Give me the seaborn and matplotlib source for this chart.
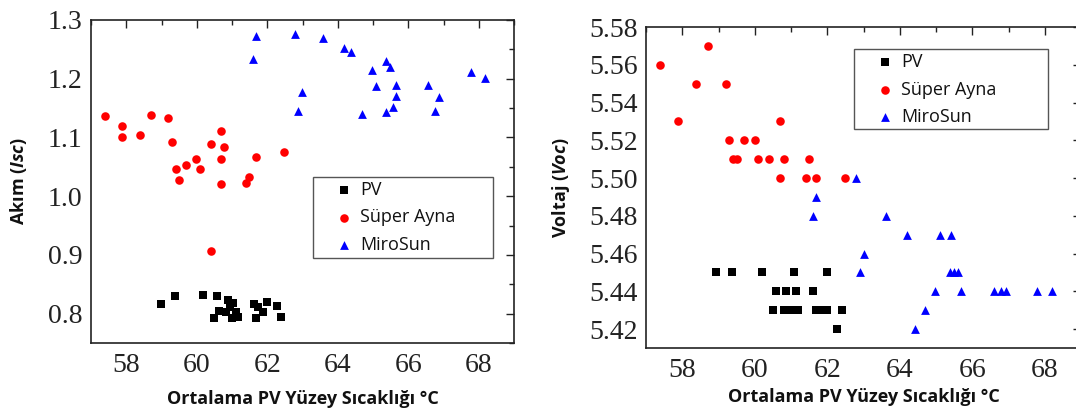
import numpy as np
import pandas as pd
import matplotlib
matplotlib.use("Agg")
import matplotlib.pyplot as plt
from matplotlib.ticker import MultipleLocator, FormatStrFormatter
from matplotlib.patches import Rectangle
import seaborn as sns

# ---------------- data ----------------
series_names = ["PV", "Süper Ayna", "MiroSun"]

# Left panel: Akım (Isc)
pv_isc_t = [58.99, 59.39, 60.17, 60.58, 60.90, 60.63, 60.94, 60.50, 60.99, 61.18,
            61.12, 60.84, 61.63, 61.74, 61.98, 61.87, 61.68, 62.27, 62.39, 61.03]
pv_isc = [0.817, 0.830, 0.831, 0.830, 0.823, 0.805, 0.812, 0.793, 0.793, 0.795,
          0.803, 0.803, 0.817, 0.811, 0.820, 0.803, 0.792, 0.813, 0.795, 0.818]

sa_isc_t = [57.39, 57.89, 57.89, 58.38, 58.69, 59.19, 59.29, 59.40, 59.49, 59.69, 59.98,
            60.08, 60.39, 60.69, 60.78, 60.69, 60.69, 61.39, 61.48, 61.68, 62.48, 60.39]
sa_isc = [1.137, 1.119, 1.100, 1.104, 1.139, 1.133, 1.093, 1.047, 1.027, 1.053, 1.063,
          1.046, 1.088, 1.111, 1.084, 1.064, 1.021, 1.022, 1.033, 1.067, 1.076, 0.907]

ms_isc_t = [61.69, 61.59, 62.79, 62.99, 62.88, 63.58, 64.18, 64.37, 64.98, 65.36, 65.47,
            65.08, 65.66, 65.66, 65.58, 65.36, 64.68, 66.57, 66.88, 66.77, 67.77, 68.18]
ms_isc = [1.273, 1.233, 1.276, 1.178, 1.145, 1.270, 1.252, 1.245, 1.215, 1.230, 1.220,
          1.188, 1.190, 1.170, 1.152, 1.143, 1.140, 1.190, 1.169, 1.145, 1.211, 1.202]

# Right panel: Voltaj (Voc)
pv_voc_t = [58.92, 59.38, 60.19, 61.09, 61.99, 60.59, 60.87, 61.14, 61.60,
            60.50, 60.80, 61.00, 61.20, 61.69, 61.88, 61.99, 62.40, 62.28]
pv_voc = [5.45, 5.45, 5.45, 5.45, 5.45, 5.44, 5.44, 5.44, 5.44,
          5.43, 5.43, 5.43, 5.43, 5.43, 5.43, 5.43, 5.43, 5.42]

sa_voc_t = [57.39, 57.89, 58.39, 58.70, 59.20, 59.29, 59.39, 59.50, 59.69, 60.01,
            60.10, 60.40, 60.69, 60.69, 60.80, 61.40, 61.49, 61.70, 62.50]
sa_voc = [5.56, 5.53, 5.55, 5.57, 5.55, 5.52, 5.51, 5.51, 5.52, 5.52,
          5.51, 5.51, 5.53, 5.50, 5.51, 5.50, 5.51, 5.50, 5.50]

ms_voc_t = [61.69, 61.60, 62.79, 62.90, 63.00, 63.61, 64.20, 64.41, 64.70, 64.98, 65.10,
            65.41, 65.38, 65.49, 65.60, 65.69, 66.61, 66.78, 66.92, 67.79, 68.19]
ms_voc = [5.49, 5.48, 5.50, 5.45, 5.46, 5.48, 5.47, 5.42, 5.43, 5.44, 5.47,
          5.47, 5.45, 5.45, 5.45, 5.44, 5.44, 5.44, 5.44, 5.44, 5.44]

x_label = "Ortalama PV Yüzey Sıcaklığı °C"
y_label_left = "Akım ($\\mathit{Isc}$)"
y_label_right = "Voltaj ($\\mathit{Voc}$)"

# ---------------- style ----------------
sns.set_theme(style="white")
plt.rcParams["font.family"] = ["Open Sans", "DejaVu Sans"]
plt.rcParams["mathtext.fontset"] = "custom"
plt.rcParams["mathtext.rm"] = "Open Sans:bold"
plt.rcParams["mathtext.it"] = "Open Sans:italic:bold"
plt.rcParams["mathtext.bf"] = "Open Sans:bold"

colors = {"PV": "#000000", "Süper Ayna": "#ff0000", "MiroSun": "#0000ff"}
markers = {"PV": "s", "Süper Ayna": "o", "MiroSun": "^"}
sizes = {"PV": 28, "Süper Ayna": 38, "MiroSun": 40}

fig = plt.figure(figsize=(10.76, 4.11), dpi=100)
ax1 = fig.add_axes([0.0846, 0.1655, 0.3931, 0.7859])
ax2 = fig.add_axes([0.6004, 0.1533, 0.4043, 0.7810])


def draw(ax, data, ylim, ymaj, ymin, yfmt, ylabel, box, ylabelpad, xlabelpad):
    for name, (xs, ys) in zip(series_names, data):
        df = pd.DataFrame({"t": xs, "v": ys})
        sns.scatterplot(data=df, x="t", y="v", ax=ax, color=colors[name],
                        marker=markers[name], s=sizes[name], linewidth=0,
                        label=name, zorder=3)
    ax.set_xlim(57, 69)
    ax.set_ylim(*ylim)
    ax.xaxis.set_major_locator(MultipleLocator(2))
    ax.xaxis.set_minor_locator(MultipleLocator(1))
    ax.yaxis.set_major_locator(MultipleLocator(ymaj))
    ax.yaxis.set_minor_locator(MultipleLocator(ymin))
    ax.xaxis.set_major_formatter(FormatStrFormatter("%d"))
    ax.yaxis.set_major_formatter(FormatStrFormatter(yfmt))
    ax.tick_params(which="both", direction="in", top=True, right=True,
                   colors="#222222", width=1.0)
    ax.tick_params(which="major", length=6)
    ax.tick_params(which="minor", length=3.5)
    ax.tick_params(axis="x", which="major", pad=7)
    ax.tick_params(axis="y", which="major", pad=6)
    for lab in ax.get_xticklabels() + ax.get_yticklabels():
        lab.set_fontfamily("Liberation Serif")
        lab.set_fontsize(20)
        lab.set_color("#222222")
    for sp in ax.spines.values():
        sp.set_color("#222222")
        sp.set_linewidth(1.2)
    ax.set_xlabel(x_label, fontsize=13, fontweight="bold", labelpad=xlabelpad,
                  color="#111111")
    ax.set_ylabel(ylabel, fontsize=13, fontweight="bold", labelpad=ylabelpad,
                  color="#111111")
    ax.grid(False)

    # legend frame (drawn as a box) and content placed inside it
    bx, by, bw, bh = box
    ax.add_patch(Rectangle((bx, by), bw, bh, transform=ax.transAxes,
                           facecolor="white", edgecolor="#555555",
                           linewidth=1.0, zorder=4))
    wpx = ax.get_position().width * fig.get_figwidth() * fig.dpi
    hpx = ax.get_position().height * fig.get_figheight() * fig.dpi
    leg = ax.legend(loc="upper left",
                    bbox_to_anchor=(bx + 22 / wpx, by + bh - 4 / hpx),
                    fontsize=13, frameon=False, borderpad=0, borderaxespad=0,
                    labelspacing=0.52, handlelength=1.0, handletextpad=0.4,
                    markerscale=1.0)
    leg.set_zorder(5)
    for t in leg.get_texts():
        t.set_color("#111111")


draw(ax1,
     [(pv_isc_t, pv_isc), (sa_isc_t, sa_isc), (ms_isc_t, ms_isc)],
     (0.75, 1.3), 0.1, 0.05, "%.1f", y_label_left,
     (0.525, 0.263, 0.425, 0.251), 14, 9)
draw(ax2,
     [(pv_voc_t, pv_voc), (sa_voc_t, sa_voc), (ms_voc_t, ms_voc)],
     (5.41, 5.58), 0.02, 0.01, "%.2f", y_label_right,
     (0.478, 0.682, 0.446, 0.249), 12, 4)

fig.savefig("out.png", dpi=100)
